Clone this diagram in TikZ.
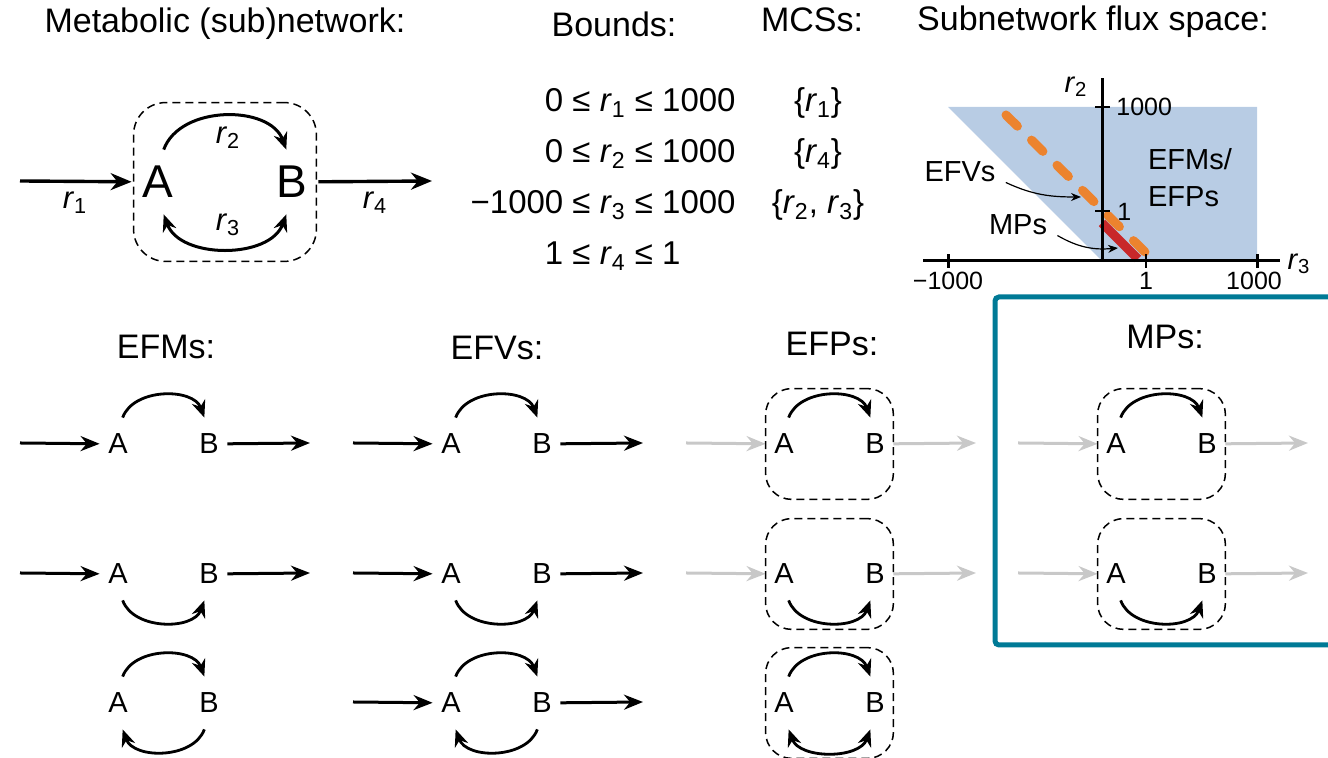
\documentclass[tikz,border=0pt]{standalone}
\usepackage{fontspec}
\setmainfont{Liberation Sans}
\usetikzlibrary{arrows.meta,fit,positioning}
\definecolor{fluxblue}{RGB}{184,204,228}
\definecolor{efvorange}{RGB}{236,131,46}
\definecolor{mpred}{RGB}{200,40,42}
\definecolor{mpteal}{RGB}{0,122,150}
\definecolor{inactive}{RGB}{200,200,200}
\newcommand{\rr}[1]{\textit{r}\textsubscript{#1}}
\tikzset{hdr/.style={font=\fontsize{17}{17}\selectfont},
  met/.style={font=\fontsize{14.5}{14.5}\selectfont, inner sep=0pt, minimum width=18pt, minimum height=26pt},
  bigmet/.style={font=\fontsize{23}{23}\selectfont, inner sep=0pt, minimum width=26pt, minimum height=32pt},
  rlbl/.style={font=\fontsize{15.5}{15.5}\selectfont, inner sep=0pt},
  plotlbl/.style={font=\fontsize{14.5}{18.5}\selectfont, inner sep=0pt},
  ticklbl/.style={font=\fontsize{12.5}{12.5}\selectfont, inner sep=0pt},
  rxn/.style={-{Stealth[length=9.5pt,width=7.5pt]}, line width=1.5pt},
  bigrxn/.style={-{Stealth[length=10.5pt,width=8.5pt]}, line width=1.7pt},
  offrxn/.style={rxn, inactive},
  convarc/.style={-{Stealth[length=8.5pt,width=7pt]}, line width=1.4pt},
  twoarc/.style={{Stealth[length=8.5pt,width=7pt]}-{Stealth[length=8.5pt,width=7pt]}, line width=1.4pt},
  notearr/.style={-{Stealth[length=5pt,width=4pt]}, line width=0.6pt},
  subbox/.style={draw, dash pattern=on 4pt off 2.5pt, line width=0.75pt, rounded corners=13pt, inner xsep=0pt, inner ysep=14.5pt}}

\begin{document}
\begin{tikzpicture}[x=0.5pt, y=0.5pt]
\useasboundingbox (0,0) rectangle (1328,758);
% headers
\node[hdr] (nethdr) at (225,734) {Metabolic (sub)network:};
\node[hdr] (bndhdr) at (614,734) {Bounds:};
\node[hdr] (mcshdr) at (812,738) {MCSs:};
\node[hdr] (fluxhdr) at (1093,736) {Subnetwork flux space:};

% full network
\node[bigmet] (A) at (158,576) {A};
\node[bigmet] (B) at (292,576) {B};
\coordinate (r1in) at (20,577);
\coordinate (r4out) at (432,577);
\draw[bigrxn] (r1in) -- (A);
\draw[bigrxn] (B) -- (r4out);
\draw[convarc, line width=1.5pt] (A.80) to[out=70,in=110] (B.100);
\draw[twoarc, line width=1.5pt] (A.-80) to[out=-70,in=-110] (B.-100);
\node[subbox, rounded corners=16pt, inner xsep=-1pt, inner ysep=23.5pt, fit=(A)(B)] (sub) {};
\node[rlbl] (r1lbl) at (75,555) {\rr1};
\node[rlbl] (r2lbl) at (228,620) {\rr2};
\node[rlbl] (r3lbl) at (228,533) {\rr3};
\node[rlbl] (r4lbl) at (375,555) {\rr4};

% bounds and MCSs
\node[anchor=base east, inner sep=0pt, font=\fontsize{16.5}{25.5}\selectfont] (bounds) at (736,646)
  {\begin{tabular}[t]{@{}r@{\ }l@{}}
   0 & ≤ \rr1 ≤ 1000\\
   0 & ≤ \rr2 ≤ 1000\\
   −1000 & ≤ \rr3 ≤ 1000\\
   1 & ≤ \rr4 ≤ 1
   \end{tabular}};
\node[anchor=base, inner sep=0pt, font=\fontsize{16.5}{25.5}\selectfont] (mcss) at (818,646)
  {\begin{tabular}[t]{@{}c@{}}
   \{\rr1\}\\
   \{\rr4\}\\
   \{\rr2, \rr3\}
   \end{tabular}};

% flux space
\fill[fluxblue] (948,651) -- (1257,651) -- (1257,497) -- (1102,497) -- cycle;
\draw[efvorange, line width=4.5pt, line cap=round, dash pattern=on 8pt off 9.9pt] (1006,643) -- (1145,506);
\draw[mpred, line width=4.5pt] (1102,535) -- (1138,499);
\draw[line width=1.5pt] (923,497) -- (1280,497);
\draw[line width=1.5pt] (1102,497) -- (1102,680);
\draw[line width=1pt] (1095,651) -- (1110,651);
\draw[line width=1pt] (1095,547) -- (1110,547);
\draw[line width=1.5pt] (948,490) -- (948,504);
\draw[line width=1pt] (1146,490) -- (1146,504);
\draw[line width=1.5pt] (1257,490) -- (1257,504);
\node[ticklbl, anchor=west] (y1000) at (1116,651) {1000};
\node[ticklbl, anchor=west] (y1) at (1117,546) {1};
\node[ticklbl] (xm1000) at (948,477) {−1000};
\node[ticklbl] (x1) at (1146,477) {1};
\node[ticklbl] (x1000) at (1254,477) {1000};
\node[plotlbl] (r2ax) at (1076,671) {\rr2};
\node[plotlbl] (r3ax) at (1299,494) {\rr3};
\node[plotlbl, align=left] (efmlbl) at (1190,580) {EFMs/\\EFPs};
\node[plotlbl] (efvlbl) at (960,586) {EFVs};
\node[plotlbl] (mplbl) at (1018,533) {MPs};
\coordinate (efvtip) at (1081,561);
\coordinate (mptip) at (1118,510);
\draw[notearr] ([xshift=5pt]efvlbl.south east) to[out=-25,in=180] (efvtip);
\draw[notearr] ([xshift=5pt]mplbl.south east) to[out=-30,in=185] (mptip);

% column titles
\node[hdr] (efmhdr) at (166,411) {EFMs:};
\node[hdr] (efvhdr) at (497,410) {EFVs:};
\node[hdr] (efphdr) at (832,414) {EFPs:};
\node[hdr] (mphdr) at (1165,421) {MPs:};

% EFMs
\node[met] (fmA1) at (118,314) {A};
\node[met] (fmB1) at (209,314) {B};
\node[met] (fmA2) at (118,184) {A};
\node[met] (fmB2) at (209,184) {B};
\node[met] (fmA3) at (118,55) {A};
\node[met] (fmB3) at (209,55) {B};
\coordinate (fmin1) at (20,315);
\coordinate (fmout1) at (310,315);
\coordinate (fmin2) at (20,185);
\coordinate (fmout2) at (310,185);
\draw[rxn] (fmin1) -- (fmA1);
\draw[rxn] (fmB1) -- (fmout1);
\draw[rxn] (fmin2) -- (fmA2);
\draw[rxn] (fmB2) -- (fmout2);
\draw[convarc] (fmA1.80) to[out=70,in=110] (fmB1.100);
\draw[convarc] (fmA2.-80) to[out=-70,in=-110] (fmB2.-100);
\draw[convarc] (fmA3.80) to[out=70,in=110] (fmB3.100);
\draw[convarc] (fmB3.-100) to[out=-110,in=-70] (fmA3.-80);

% EFVs
\node[met] (fvA1) at (451,314) {A};
\node[met] (fvB1) at (542,314) {B};
\node[met] (fvA2) at (451,184) {A};
\node[met] (fvB2) at (542,184) {B};
\node[met] (fvA3) at (451,55) {A};
\node[met] (fvB3) at (542,55) {B};
\coordinate (fvin1) at (353,315);
\coordinate (fvout1) at (643,315);
\coordinate (fvin2) at (353,185);
\coordinate (fvout2) at (643,185);
\coordinate (fvin3) at (353,56);
\coordinate (fvout3) at (643,56);
\draw[rxn] (fvin1) -- (fvA1);
\draw[rxn] (fvB1) -- (fvout1);
\draw[rxn] (fvin2) -- (fvA2);
\draw[rxn] (fvB2) -- (fvout2);
\draw[rxn] (fvin3) -- (fvA3);
\draw[rxn] (fvB3) -- (fvout3);
\draw[convarc] (fvA1.80) to[out=70,in=110] (fvB1.100);
\draw[convarc] (fvA2.-80) to[out=-70,in=-110] (fvB2.-100);
\draw[convarc] (fvA3.80) to[out=70,in=110] (fvB3.100);
\draw[convarc] (fvB3.-100) to[out=-110,in=-70] (fvA3.-80);

% EFPs
\node[met] (fpA1) at (784,314) {A};
\node[met] (fpB1) at (875,314) {B};
\node[met] (fpA2) at (784,184) {A};
\node[met] (fpB2) at (875,184) {B};
\node[met] (fpA3) at (784,55) {A};
\node[met] (fpB3) at (875,55) {B};
\coordinate (fpin1) at (686,315);
\coordinate (fpout1) at (976,315);
\coordinate (fpin2) at (686,185);
\coordinate (fpout2) at (976,185);
\draw[offrxn] (fpin1) -- (fpA1);
\draw[offrxn] (fpB1) -- (fpout1);
\draw[offrxn] (fpin2) -- (fpA2);
\draw[offrxn] (fpB2) -- (fpout2);
\draw[convarc] (fpA1.80) to[out=70,in=110] (fpB1.100);
\draw[convarc] (fpA2.-80) to[out=-70,in=-110] (fpB2.-100);
\draw[convarc] (fpA3.80) to[out=70,in=110] (fpB3.100);
\draw[twoarc] (fpA3.-80) to[out=-70,in=-110] (fpB3.-100);
\node[subbox, fit=(fpA1)(fpB1)] (fpbox1) {};
\node[subbox, fit=(fpA2)(fpB2)] (fpbox2) {};
\node[subbox, fit=(fpA3)(fpB3)] (fpbox3) {};

% MPs
\draw[mpteal, line width=2.5pt, rounded corners=2pt] (995,113) rectangle (1345,461);
\node[met] (mpA1) at (1116,314) {A};
\node[met] (mpB1) at (1207,314) {B};
\node[met] (mpA2) at (1116,184) {A};
\node[met] (mpB2) at (1207,184) {B};
\coordinate (mpin1) at (1018,315);
\coordinate (mpout1) at (1308,315);
\coordinate (mpin2) at (1018,185);
\coordinate (mpout2) at (1308,185);
\draw[offrxn] (mpin1) -- (mpA1);
\draw[offrxn] (mpB1) -- (mpout1);
\draw[offrxn] (mpin2) -- (mpA2);
\draw[offrxn] (mpB2) -- (mpout2);
\draw[convarc] (mpA1.80) to[out=70,in=110] (mpB1.100);
\draw[convarc] (mpA2.-80) to[out=-70,in=-110] (mpB2.-100);
\node[subbox, fit=(mpA1)(mpB1)] (mpbox1) {};
\node[subbox, fit=(mpA2)(mpB2)] (mpbox2) {};
\end{tikzpicture}
\end{document}
